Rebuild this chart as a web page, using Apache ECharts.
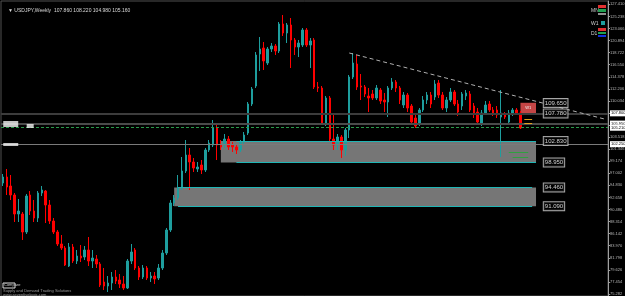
<!DOCTYPE html>
<html>
<head>
<meta charset="utf-8">
<script src="https://cdn.jsdelivr.net/npm/echarts@6/dist/echarts.min.js"></script>
<style>
  html, body { margin: 0; padding: 0; background: #000; }
  #chart { width: 625px; height: 296px; }
</style>
</head>
<body>
<div id="chart"></div>
<script>
// USDJPY weekly candles
const opens = [95.26,96.34,94.72,93.10,89.68,89.68,86.44,93.10,90.22,88.96,93.46,93.82,91.30,88.42,86.44,84.28,83.56,80.32,83.74,81.22,
  82.12,81.94,83.20,81.22,81.58,80.68,77.44,76.72,77.26,78.34,77.80,77.08,76.36,81.22,83.20,79.96,78.34,79.96,78.16,78.52,
  78.16,79.96,82.66,86.80,91.66,92.56,94.36,97.42,100.30,99.04,97.78,98.50,97.60,101.20,102.10,105.16,102.10,102.10,103.18,102.10,
  101.74,101.20,102.64,104.26,109.48,112.72,118.48,119.56,116.86,119.38,119.92,119.02,123.88,122.26,123.70,121.00,119.74,120.10,122.80,120.10,
  121.00,112.54,112.36,106.06,110.56,103.18,102.10,103.54,101.20,104.80,114.34,116.68,112.72,112.54,110.92,111.28,110.56,112.00,110.20,109.84,
  112.36,113.44,112.36,109.30,111.10,109.12,106.96,105.88,108.40,110.20,111.10,110.74,113.26,111.10,108.76,110.20,111.64,109.48,109.12,110.92,
  111.28,109.12,108.04,106.06,107.86,109.48,108.40,108.40,107.14,107.68,106.24,107.68,108.40,107.86];
const closes = [96.34,94.54,93.10,89.68,90.22,86.44,92.92,90.22,88.96,93.46,94.00,91.30,88.42,86.44,84.28,83.56,80.50,83.74,81.22,82.12,
  81.76,83.20,81.22,81.76,80.68,76.90,76.72,77.26,78.34,77.62,77.08,76.36,81.22,82.84,79.96,78.34,79.96,78.16,78.52,77.98,
  79.96,82.66,86.80,91.66,92.56,94.36,97.42,100.30,99.04,97.96,98.14,97.60,101.20,102.46,105.16,102.10,101.74,103.18,101.74,101.74,
  101.20,102.64,103.90,109.48,112.18,118.30,119.38,117.22,119.38,119.92,119.02,123.88,122.26,123.70,121.00,119.74,120.46,122.80,120.10,120.82,
  112.54,112.36,106.06,110.56,103.18,102.10,103.54,101.20,104.80,114.34,116.86,112.54,112.54,111.28,110.56,110.56,112.36,110.02,109.84,112.36,
  113.44,112.36,110.20,111.10,108.76,106.24,105.52,108.40,110.20,111.10,109.48,113.08,111.10,108.76,110.20,111.64,109.48,108.04,111.28,111.46,
  108.40,107.68,106.24,107.86,109.30,108.40,107.86,107.50,107.86,107.14,107.86,108.40,107.86,105.16];
const lows = [94.72,93.10,92.20,88.24,88.24,85.00,86.08,89.50,88.24,88.24,92.92,88.06,87.88,86.08,83.92,83.20,80.32,80.14,80.86,80.68,
  81.04,81.40,80.32,79.96,79.96,76.54,76.00,75.64,76.00,77.08,76.36,76.00,76.18,80.68,79.60,77.80,77.98,77.80,77.44,77.08,
  77.80,79.60,82.30,86.44,91.12,92.20,94.00,97.06,94.00,97.24,97.24,96.88,97.24,100.84,101.74,99.40,101.20,101.56,101.20,100.84,
  100.48,100.84,102.28,103.90,109.12,112.36,115.42,115.60,116.50,118.84,118.30,118.66,121.72,120.46,115.96,118.30,117.94,119.74,119.74,115.96,
  112.18,111.64,105.70,105.52,102.82,101.20,101.20,99.76,100.12,103.36,113.98,112.00,110.20,110.74,108.04,110.20,110.20,109.48,108.04,107.14,
  112.00,111.64,109.48,108.76,108.04,105.88,105.16,105.52,108.04,109.48,108.76,110.20,110.56,108.40,108.04,109.84,109.12,107.32,108.40,110.20,
  108.04,106.96,105.70,105.52,107.50,108.04,107.32,106.96,99.94,106.78,105.88,107.32,107.50,104.98];
const highs = [96.88,97.78,96.70,93.46,92.38,90.04,93.28,93.82,92.20,93.82,94.72,94.00,92.20,88.96,86.80,85.90,83.92,84.46,84.28,83.20,
  84.10,83.92,85.54,83.20,82.30,81.04,79.96,78.52,79.24,79.60,78.88,78.52,81.58,84.28,83.56,80.32,80.50,80.32,79.24,79.24,
  80.68,83.20,87.16,92.20,93.10,96.70,99.94,103.00,101.56,99.76,99.04,99.40,101.56,103.00,106.60,105.70,103.00,104.08,103.72,102.64,
  102.28,103.00,104.44,109.84,112.54,118.84,121.54,120.64,119.74,120.46,120.28,124.24,125.50,124.06,124.96,121.36,121.00,123.16,123.16,121.36,
  121.36,113.44,112.72,110.92,110.92,107.50,104.08,103.90,105.16,114.70,118.66,118.30,114.88,112.90,112.36,112.00,112.90,112.36,111.46,112.72,
  114.16,113.80,112.72,111.64,111.46,109.48,107.50,108.76,110.92,111.64,111.64,113.80,113.80,111.64,110.74,112.36,112.00,110.20,111.64,112.00,
  111.82,109.66,108.76,108.40,110.02,110.02,108.94,109.12,112.00,108.04,108.40,108.76,108.76,108.22];

// price scale labels on the right axis
const yTicks = [127.410,125.238,123.066,120.894,118.722,116.550,114.378,112.206,110.034,107.862,105.690,103.518,
  101.346,99.174,97.002,94.830,92.658,90.486,88.314,86.142,83.970,81.798,79.626,77.454,75.282];

// supply / demand zones [top, bottom]
const zoneUpper = [102.83, 98.95];
const zoneLower = [94.46, 91.09];
// trend line end points [index, price]
const trendStart = [89, 118.66];
const trendEnd = [155, 106.70];
// price tags beside the zones
const tagValues = [109.65, 107.78, 102.83, 98.95, 94.46, 91.09];

const slots = 156;
const cats = [];
for (let i = 0; i < slots; i++) cats.push(String(i));
const candles = cats.map((c, i) => i < opens.length ? [opens[i], closes[i], lows[i], highs[i]] : '-');

const chart = echarts.init(document.getElementById('chart'));
const small = { fontSize: 6, fontFamily: 'Liberation Sans' };

const hLine = (v, color, width, type, lab) => ({
  yAxis: v,
  lineStyle: { color: color, width: width, type: type },
  label: lab ? { show: true, position: 'end', distance: 2, formatter: v.toFixed(3), color: '#000',
    backgroundColor: '#fff', padding: [1, 1], fontSize: 4, fontFamily: 'Liberation Sans' } : { show: false }
});

const seg = (x1, y1, x2, y2, color, width, type) => [
  { coord: [x1, y1], lineStyle: { color: color, width: width, type: type } },
  { coord: [x2, y2] }
];

chart.setOption({
  backgroundColor: '#000',
  animation: false,
  title: {
    text: '\u25BC USDJPY,Weekly  107.860 108.220 104.980 105.160',
    left: 3, top: 3,
    textStyle: { color: '#d8d8d8', fontSize: 5, fontWeight: 'normal', fontFamily: 'Liberation Sans' }
  },
  grid: { left: 1, right: 17, top: 1, bottom: 0, outerBoundsMode: 'none', show: true, borderColor: '#505050', borderWidth: 1 },
  xAxis: {
    type: 'category', data: cats, boundaryGap: true,
    axisLine: { show: false }, axisTick: { show: false }, axisLabel: { show: false }, splitLine: { show: false }
  },
  yAxis: {
    type: 'value', position: 'right', min: 74.92, max: 128.02, scale: true,
    splitLine: { show: false },
    axisLine: { show: true, lineStyle: { color: '#a0a0a0' } },
    axisTick: { show: true, length: 2, customValues: yTicks, lineStyle: { color: '#a0a0a0' } },
    axisLabel: { show: true, customValues: yTicks, margin: 2, color: '#b8b8b8', fontSize: 4, fontFamily: 'Liberation Sans',
      formatter: v => v.toFixed(3) }
  },
  graphic: [
    { type: 'text', left: 591, top: 8, style: { text: 'MN', fill: '#cfcfcf', ...small, fontSize: 5 } },
    { type: 'rect', shape: { x: 598, y: 5, width: 8, height: 3 }, style: { fill: '#e03030' } },
    { type: 'rect', shape: { x: 598, y: 9, width: 8, height: 3 }, style: { fill: '#20a050' } },
    { type: 'rect', shape: { x: 598, y: 13, width: 8, height: 2 }, style: { fill: '#909090' } },
    { type: 'text', left: 591, top: 21, style: { text: 'W1', fill: '#cfcfcf', ...small, fontSize: 5 } },
    { type: 'rect', shape: { x: 601, y: 21, width: 4, height: 4 }, style: { fill: '#1e9e9e' } },
    { type: 'text', left: 591, top: 31, style: { text: 'D1', fill: '#cfcfcf', ...small, fontSize: 5 } },
    { type: 'rect', shape: { x: 598, y: 28, width: 8, height: 3 }, style: { fill: '#e03030' } },
    { type: 'rect', shape: { x: 598, y: 32, width: 8, height: 2 }, style: { fill: '#20a050' } },
    { type: 'rect', shape: { x: 598, y: 35, width: 8, height: 2 }, style: { fill: '#1030e0' } },
    { type: 'rect', shape: { x: 3, y: 283, width: 12, height: 5 }, style: { fill: '#000', stroke: '#ddd', lineWidth: 1 } },
    { type: 'text', left: 4, top: 283, style: { text: 'Compare', fill: '#ccc', fontSize: 4, fontFamily: 'Liberation Sans' } },
    { type: 'text', left: 3, top: 289, style: { text: 'Supply and Demand Trading Solutions', fill: '#9a9a9a', fontSize: 4, fontFamily: 'Liberation Sans' } },
    { type: 'text', left: 3, top: 293, style: { text: 'www.sevenfivelogic.com', fill: '#9a9a9a', fontSize: 4, fontFamily: 'Liberation Sans' } }
  ],
  series: [
    {
      name: 'zones', type: 'scatter', data: [], z: 1, silent: true,
      markArea: {
        silent: true,
        itemStyle: { color: '#767676' },
        label: { show: false },
        data: [
          [{ xAxis: 56, yAxis: zoneUpper[0] }, { xAxis: 137, yAxis: zoneUpper[1] }],
          [{ xAxis: 44, yAxis: zoneLower[0] }, { xAxis: 137, yAxis: zoneLower[1] }]
        ]
      },
      markLine: {
        silent: true, symbol: 'none', label: { show: false },
        data: [
          seg(60, zoneUpper[0], 137, zoneUpper[0], '#1fb5b5', 1, 'solid'),
          seg(60, zoneUpper[1], 137, zoneUpper[1], '#1fb5b5', 1, 'solid'),
          seg(45, zoneLower[0], 136, zoneLower[0], '#1fb5b5', 1, 'solid'),
          seg(45, zoneLower[1], 136, zoneLower[1], '#1fb5b5', 1, 'solid')
        ]
      }
    },
    {
      name: 'USDJPY', type: 'candlestick', data: candles, z: 3, barWidth: 2,
      itemStyle: { color: '#1e9e9e', color0: '#ff0000', borderColor: '#1e9e9e', borderColor0: '#ff0000', borderWidth: 1 },
      markLine: {
        silent: true, symbol: 'none',
        data: [
          hLine(107.80, '#3c3c3c', 2, 'solid', true),
          hLine(105.95, '#4a4a4a', 2, 'solid', true),
          hLine(105.21, '#2a9a4a', 1, [3, 2], true),
          hLine(102.25, '#7a7a7a', 1, 'solid', true)
        ]
      }
    },
    {
      name: 'marks', type: 'scatter', data: [], z: 4, silent: true,
      markArea: {
        silent: true,
        itemStyle: { color: '#c44545' },
        label: { show: true, position: 'inside', formatter: 'W1', color: '#eee', fontSize: 4, fontFamily: 'Liberation Sans' },
        data: [[{ xAxis: 133, yAxis: 109.7 }, { xAxis: 137, yAxis: 107.72 }]]
      },
      markLine: {
        silent: true, symbol: 'none', label: { show: false },
        data: [
          [{ coord: trendStart, lineStyle: { color: '#b0b0b0', width: 1, type: [4, 3] } }, { coord: trendEnd }],
          seg(134, 106.80, 136, 106.80, '#e0a020', 1, 'solid'),
          seg(134, 106.06, 136, 106.06, '#e0a020', 1, 'solid'),
          seg(130, 100.84, 135, 100.84, '#30a040', 1, 'solid'),
          seg(131, 99.94, 135, 99.94, '#30a040', 1, 'solid')
        ]
      }
    },
    {
      name: 'tags', type: 'scatter', z: 5, symbolSize: 0, silent: true,
      data: tagValues.map(v => [139, v]),
      label: {
        show: true, position: 'right', distance: 0,
        formatter: p => p.value[1].toFixed(3),
        color: '#fff', backgroundColor: '#000', borderColor: '#d0d0d0', borderWidth: 1,
        padding: [1, 1], fontSize: 6, fontFamily: 'Liberation Sans'
      }
    },
    {
      name: 'leftTags', type: 'scatter', z: 5, silent: true, symbol: 'rect',
      data: [
        { value: [2, 105.88], symbolSize: [15, 6] },
        { value: [7, 105.52], symbolSize: [7, 4] },
        { value: [2, 102.19], symbolSize: [15, 3] }
      ],
      itemStyle: { color: '#f4f4f4' }
    }
  ]
});
</script>
</body>
</html>
